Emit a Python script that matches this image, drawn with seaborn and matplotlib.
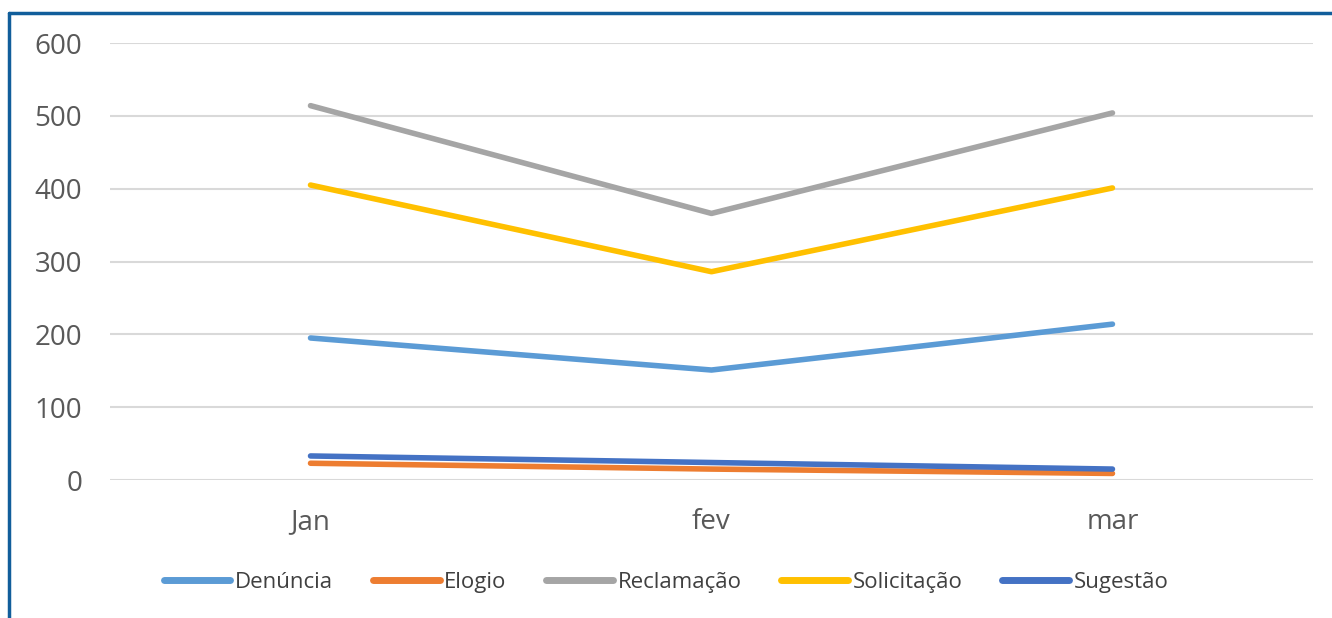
import pandas as pd
import seaborn as sns
import matplotlib.pyplot as plt
from matplotlib.lines import Line2D

# Data
months = ["Jan", "fev", "mar"]
denuncia = [195, 151, 214]
elogio = [23, 15, 9]
reclamacao = [514, 366, 504]
solicitacao = [405, 286, 401]
sugestao = [33, 24, 15]

series_names = ["Denúncia", "Elogio", "Reclamação", "Solicitação", "Sugestão"]
series_values = [denuncia, elogio, reclamacao, solicitacao, sugestao]
colors = ["#5B9BD5", "#ED7D31", "#A5A5A5", "#FFC000", "#4472C4"]

rows = []
for name, vals in zip(series_names, series_values):
    for m, v in zip(months, vals):
        rows.append({"mes": m, "valor": v, "tipo": name})
df = pd.DataFrame(rows)

sns.set_style("white")
plt.rcParams["font.family"] = ["Open Sans", "DejaVu Sans"]

fig = plt.figure(figsize=(13.32, 6.18), dpi=100)
ax = fig.add_axes([0.0826, 0.2233, 0.9031, 0.7071])

sns.lineplot(
    data=df, x="mes", y="valor", hue="tipo", hue_order=series_names,
    palette=dict(zip(series_names, colors)), sort=False,
    linewidth=4.0, ax=ax, legend=False,
)

ax.set_xlim(-0.5, 2.5)
ax.set_ylim(0, 600)
ax.set_yticks(range(0, 601, 100))
ax.grid(axis="y", color="#D9D9D9", linewidth=1.5)
ax.set_axisbelow(True)
for s in ax.spines.values():
    s.set_visible(False)
ax.set_xlabel("")
ax.set_ylabel("")
ax.tick_params(axis="both", length=0, labelsize=20, labelcolor="#595959")
ax.tick_params(axis="x", pad=20)
ax.tick_params(axis="y", pad=20)

handles = [Line2D([], [], color=c, linewidth=5) for c in colors]
fig.legend(
    handles, series_names, loc="center", bbox_to_anchor=(0.5, 0.058),
    ncol=5, frameon=False, fontsize=16, handlelength=3.0,
    handletextpad=0.2, columnspacing=1.8, labelcolor="#404040",
)

# blue frame of the screenshot (left and top edges)
fig.add_artist(Line2D([0.0068, 0.0068], [0, 0.979], transform=fig.transFigure,
                      color="#115E9B", linewidth=2.5))
fig.add_artist(Line2D([0.0068, 1.0], [0.979, 0.979], transform=fig.transFigure,
                      color="#115E9B", linewidth=2.5))

fig.savefig("out.png", dpi=100)
